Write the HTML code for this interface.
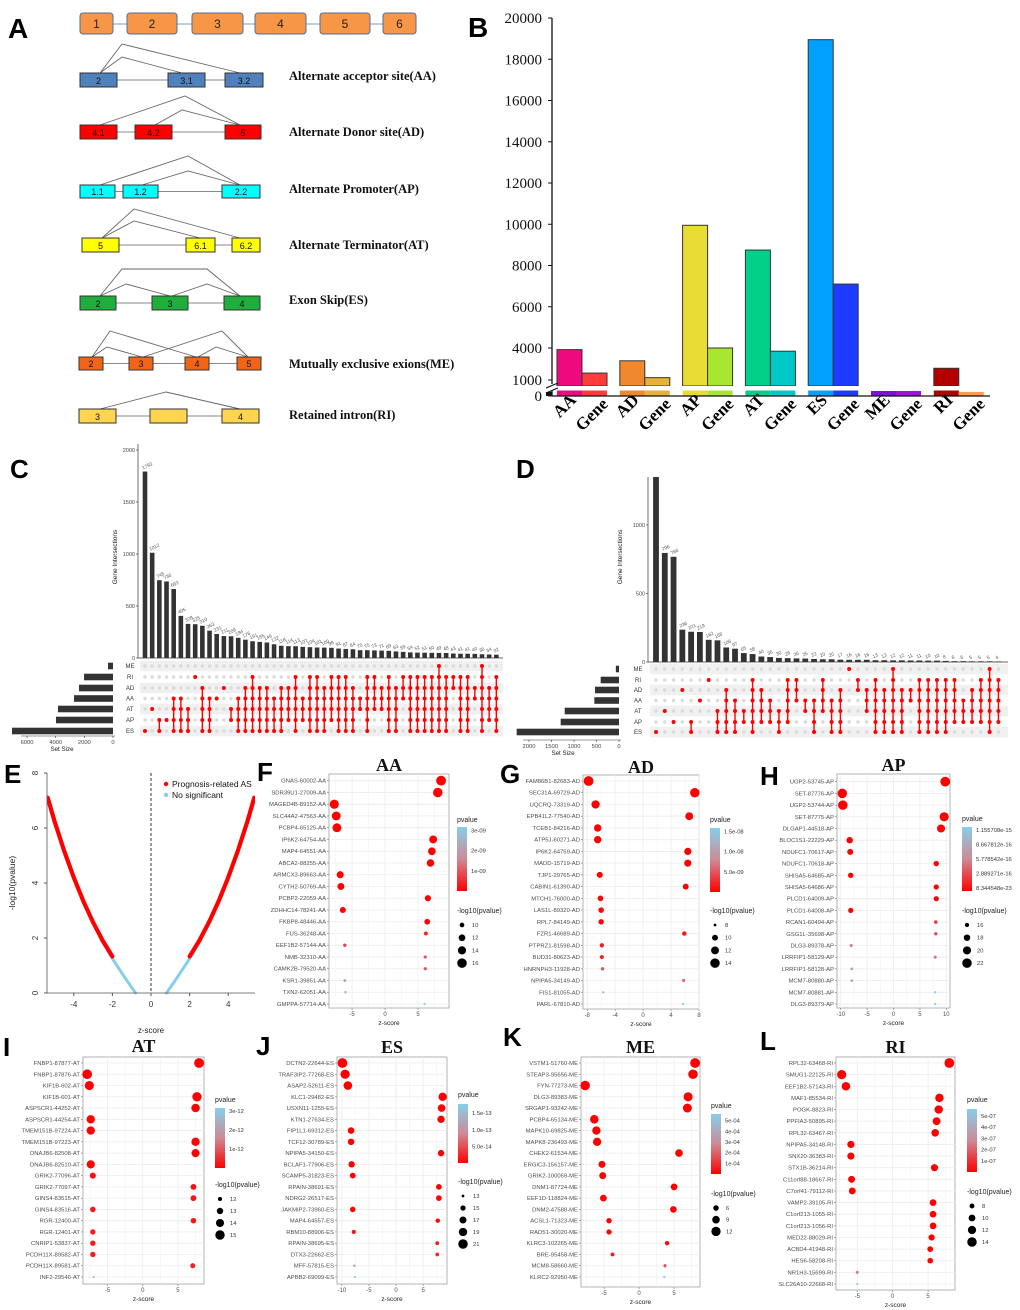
<!DOCTYPE html>
<html><head><meta charset="utf-8"><title>Alternative splicing figure</title>
<style>
html,body{margin:0;padding:0;background:#fff;}
svg{display:block;font-family:"Liberation Sans",sans-serif;}
.serif{font-family:"Liberation Serif",serif;}
</style></head>
<body>
<svg id="fig" width="1020" height="1310" viewBox="0 0 1020 1310" xmlns="http://www.w3.org/2000/svg">
<rect x="0" y="0" width="1020" height="1310" fill="#fff"/>
<defs>
<linearGradient id="cbar" x1="0" y1="1" x2="0" y2="0">
<stop offset="0" stop-color="#ff0000"/><stop offset="0.5" stop-color="#cd8a96"/><stop offset="1" stop-color="#87ceeb"/>
</linearGradient>
</defs>
</svg>
<script>
// ---------- Panel B data ----------
const bCats=['AA','AD','AP','AT','ES','ME','RI'];
const bEvents=[3850,2800,9950,8750,18950,150,2100];
const bGenes=[1650,1220,4000,3700,7100,150,120];
const bTicks=[20000,18000,16000,14000,12000,10000,8000,6000,4000,1000,0];

// ---------- Panel C data ----------
const cRows=['ME','RI','AD','AA','AT','AP','ES'];
const cSizes=[350,2020,2370,2720,3840,3980,7050];
const cCounts=[1793,1012,748,736,663,405,328,325,310,263,231,211,209,194,176,161,155,149,132,118,114,113,107,104,101,100,98,91,87,84,75,75,73,71,69,63,59,54,52,51,50,49,48,43,41,41,40,36,34,32];
const cSets=['ES','AT','AP-ES','AP','AA-ES','AA-ES','AT-ES','RI','AD-ES','AA-ES','AA','AD','AT-AP','AA-ES','AD-ES','RI-ES','AD-ES','AD-ES','AA-ES','AD-ES','AD-AP','RI-ES','AA-AP','RI-ES','RI-ES','AD-ES','RI-AP','RI-ES','RI-ES','AD-ES','AA-AT','RI-ES','RI-AT','AD-AT','RI-ES','AD-ES','RI-AA','RI-ES','RI-ES','RI-ES','RI-ES','ME-ES','RI-ES','RI-AD','RI-ES','RI-ES','AD-AA','ME-ES','AD-AP','RI-ES'];
const cYTicks=[0,500,1000,1500,2000];
const cSizeTicks=[6000,4000,2000,0];

// ---------- Panel D data ----------
const dSizes=[70,407,533,548,1207,1296,2274];
const dCounts=[1400,796,768,236,221,219,162,158,106,97,65,58,40,36,30,28,26,25,22,20,20,17,16,16,16,13,13,12,12,11,11,10,10,8,6,6,5,5,5,4];
const dSets=['ES','AT','AP','AD','AP-ES','AA','RI','AT-ES','AD-ES','AA-ES','AT-AP','RI-ES','AD-AP','AA-AP','AT-ES','RI-AP','RI-AA','AA-AT','AA-ES','RI-AT','AA-ES','AD-ES','ME','RI-AD','AD-AT','RI-ES','AD-ES','ME-ES','AD-ES','AD-AA','RI-ES','RI-ES','RI-ES','RI-ES','RI-AP','AA-AP','AD-AP','RI-AP','ME-ES','RI-AP'];
const dYTicks=[0,500,1000];
const dSizeTicks=[2000,1500,1000,500,0];

// ---------- Panel E data ----------
const eSigLeftZ=[-5.35,-5,-4.5,-4,-3.5,-3,-2.5,-2];
const eSigLeftV=[7.1,6.25,5.17,4.2,3.33,2.57,1.9,1.33];
const eSigRightZ=[2,2.5,3,3.5,4,4.5,5,5.35];
const eSigRightV=[1.33,1.9,2.57,3.33,4.2,5.17,6.25,7.1];
const eNsLeftZ=[-2.6,-2.3,-2,-1.6,-1.2,-0.8];
const eNsLeftV=[1.95,1.6,1.25,0.82,0.4,0];
const eNsRightZ=[0.8,1.2,1.6,2,2.3,2.6];
const eNsRightV=[0,0.4,0.82,1.25,1.6,1.95];
const eXTicks=[-4,-2,0,2,4];
const eYTicks=[0,2,4,6,8];

// ---------- Dot plots data ----------
const fNames=['GNAS-60002-AA','SDR39U1-27009-AA','MAGED4B-89152-AA','SLC44A2-47563-AA','PCBP4-65125-AA','IP6K2-64754-AA','MAP4-64551-AA','ABCA2-88255-AA','ARMCX3-89663-AA','CYTH2-50769-AA','PCBP2-22059-AA','ZDHHC14-78241-AA','FKBP8-48446-AA','FUS-36248-AA','EEF1B2-57144-AA','NMB-32310-AA','CAMK2B-79520-AA','KSR1-39851-AA','TXN2-62051-AA','GMPPA-57714-AA'];
const fZ=[8.5,8.0,-7.7,-7.4,-7.3,7.3,7.1,6.9,-6.8,-6.7,6.5,-6.4,6.4,6.2,-6.1,6.1,6.1,-6.1,-6.0,6.0];
const fNlp=[16.5,16,15.5,15,15,13.5,13.3,13,12.5,12.3,11.5,11.3,11,9.4,9.1,9.0,9.0,8.75,8.6,8.5];
const fCbar=['3e-09','2e-09','1e-09'];const fCbarV=[3e-9,2e-9,1e-9];
const fSizeLeg=[10,12,14,16];

const gNames=['FAM86B1-82683-AD','SEC31A-69729-AD','UQCRQ-73319-AD','EPB41L2-77540-AD','TCEB1-84216-AD','ATP5J-60271-AD','IP6K2-64759-AD','MADD-15719-AD','TJP1-29765-AD','CABIN1-61390-AD','MTCH1-76000-AD','LAS1L-89320-AD','RPL7-84149-AD','FZR1-46689-AD','PTPRZ1-81598-AD','BUD31-80623-AD','HNRNPH3-11928-AD','NPIPA5-34149-AD','FIS1-81055-AD','PARL-67810-AD'];
const gZ=[-7.8,7.4,-6.8,6.6,-6.5,-6.5,6.4,6.4,-6.2,6.1,-6.1,-6.0,-6.0,5.9,-5.9,-5.9,-5.8,5.8,-5.7,5.7];
const gNlp=[14.5,14,12.5,12,11.5,11.5,11.3,11.2,10.2,10,9.8,9.7,9.6,8.9,8.8,8.7,8.3,8.2,7.85,7.8];
const gCbar=['1.5e-08','1.0e-08','5.0e-09'];const gCbarV=[1.5e-8,1.0e-8,5e-9];
const gSizeLeg=[8,10,12,14];

const hNames=['UGP2-53745-AP','SET-87776-AP','UGP2-53744-AP','SET-87775-AP','DLGAP1-44518-AP','BLOC1S1-22229-AP','NDUFC1-70617-AP','NDUFC1-70618-AP','SHISA5-64685-AP','SHISA5-64686-AP','PLCD1-64009-AP','PLCD1-64008-AP','RCAN1-60494-AP','GSG1L-35698-AP','DLG3-89378-AP','LRRFIP1-58129-AP','LRRFIP1-58128-AP','MCM7-80880-AP','MCM7-80881-AP','DLG3-89379-AP'];
const hZ=[9.8,-9.7,-9.6,9.6,9.0,-8.3,-8.2,8.1,-8.1,8.1,8.1,-8.1,8.0,8.0,-8.0,7.9,-7.9,-7.9,7.9,7.9];
const hNlp=[22.5,22,22,21.5,20,18,17.5,17,17,16.8,16.8,16.8,15.6,15.5,15.3,15.3,15.15,15.1,14.95,14.94];
const hCbar=['1.155708e-15','8.667812e-16','5.778542e-16','2.889271e-16','8.344548e-23'];const hCbarV=[1.1557e-15,8.668e-16,5.7785e-16,2.889e-16,0];
const hSizeLeg=[16,18,20,22];

const iNames=['FNBP1-87877-AT','FNBP1-87876-AT','KIF1B-602-AT','KIF1B-601-AT','ASPSCR1-44252-AT','ASPSCR1-44254-AT','TMEM151B-97224-AT','TMEM151B-97223-AT','DNAJB6-82508-AT','DNAJB6-82510-AT','GRIK2-77096-AT','GRIK2-77097-AT','GINS4-83515-AT','GINS4-83516-AT','RGR-12400-AT','RGR-12401-AT','CNRIP1-53837-AT','PCDH11X-89582-AT','PCDH11X-89581-AT','INF2-29546-AT'];
const iZ=[8.0,-7.9,-7.6,7.7,7.5,-7.4,-7.4,7.5,7.5,-7.4,-7.1,7.2,7.2,-7.1,7.2,-7.1,-7.1,-7.1,7.1,-7.0];
const iNlp=[15.3,15.2,14.8,14.9,14.3,14.2,14.2,14.2,14.1,14.1,12.8,12.7,12.7,12.6,12.6,12.5,12.5,12.5,12.4,11.5];
const iCbar=['3e-12','2e-12','1e-12'];const iCbarV=[3e-12,2e-12,1e-12];
const iSizeLeg=[12,13,14,15];

const jNames=['DCTN2-22644-ES','TRAF3IP2-77268-ES','ASAP2-52611-ES','KLC1-29482-ES','USXN11-1255-ES','KTN1-27634-ES','FIP1L1-69312-ES','TCF12-30789-ES','NPIPA5-34150-ES','BCLAF1-77906-ES','SCAMP5-31823-ES','RPAIN-38691-ES','NDRG2-26517-ES','JAKMIP2-73960-ES','MAP4-64557-ES','RBM10-88906-ES','RPAIN-38695-ES','DTX3-22662-ES','MFF-57815-ES','APBB2-69099-ES'];
const jZ=[-9.9,-9.4,-8.9,8.6,8.4,8.3,-8.3,-8.3,8.3,-8.2,-8.0,7.9,7.9,-8.0,7.7,-7.8,7.6,7.6,-7.7,-7.6];
const jNlp=[21.5,20.5,19.5,19,18,17.5,16.5,16.4,16.3,16.2,15.5,15.4,15.4,15.3,14.2,13.9,13.7,13.6,12.9,12.75];
const jCbar=['1.5e-13','1.0e-13','5.0e-14'];const jCbarV=[1.5e-13,1.0e-13,5e-14];
const jSizeLeg=[13,15,17,19,21];

const kNames=['VSTM1-51760-ME','STEAP3-95656-ME','FYN-77273-ME','DLG3-89383-ME','SRGAP1-93242-ME','PCBP4-65134-ME','MAPK10-69825-ME','MAPK8-236493-ME','CHEK2-61534-ME','ERGIC3-156157-ME','GRIK2-100059-ME','DNM1-87724-ME','EEF1D-118824-ME','DNM2-47588-ME','ACSL1-71323-ME','RAD51-30020-ME','KLRC3-102265-ME','BRE-95458-ME','MCM8-58660-ME','KLRC2-92950-ME'];
const kZ=[8.0,7.7,-7.7,7.0,6.9,-6.4,-6.1,-6.0,5.7,-5.3,-5.2,5.0,-5.1,4.9,-4.3,-4.3,4.0,-3.8,3.7,3.6];
const kNlp=[13,12.5,12.5,11.5,11.3,10.5,10.2,10,9,8,7.9,7.6,7.6,7.5,5.8,5.7,4.8,4.3,3.8,3.25];
const kCbar=['5e-04','4e-04','3e-04','2e-04','1e-04'];const kCbarV=[5e-4,4e-4,3e-4,2e-4,1e-4];
const kSizeLeg=[6,9,12];

const lNames=['RPL32-63468-RI','SMUG1-22125-RI','EEF1B2-57143-RI','MAF1-85534-RI','POGK-8823-RI','PPFIA3-50895-RI','RPL32-63467-RI','NPIPA5-34148-RI','SNX20-36383-RI','STX1B-36214-RI','C11orf88-18667-RI','C7orf41-79112-RI','VAMP2-39105-RI','C1orf213-1055-RI','C1orf213-1056-RI','MED22-88029-RI','ACBD4-41948-RI','HES6-58208-RI','NR1H3-15699-RI','SLC26A10-22668-RI'];
const lZ=[8.0,-7.2,-6.6,6.6,6.5,6.2,6.0,-5.9,-5.9,5.9,-5.8,-5.7,5.7,5.7,5.7,5.5,5.3,5.3,-5.0,-5.0];
const lNlp=[14.5,13.5,12.5,12.3,12.2,11.5,11,10.5,10.5,10.4,10.2,10.1,9.9,9.85,9.8,9.3,8.8,8.7,6.6,6.25];
const lCbar=['5e-07','4e-07','3e-07','2e-07','1e-07'];const lCbarV=[5e-7,4e-7,3e-7,2e-7,1e-7];
const lSizeLeg=[8,10,12,14];

// ---------- helpers ----------
const NS='http://www.w3.org/2000/svg';
const svg=document.getElementById('fig');
function mk(tag,attrs,parent){const e=document.createElementNS(NS,tag);for(const k in attrs)e.setAttribute(k,attrs[k]);(parent||svg).appendChild(e);return e;}
function tx(x,y,str,attrs,parent){const e=mk('text',Object.assign({x:x,y:y},attrs||{}),parent);e.textContent=str;return e;}
function grp(name){const g=mk('g',{});


return g;}
function letter(x,y,s,size){const t=tx(x,y,s,{'font-size':size||26,'font-weight':'bold'});

}

// ---------- Panel A (diagram) ----------
(function(){
const g=grp('panel-a-splicing-diagram');
letter(8,38,'A',28);
const top=[[80,127,'1'],[127,177,'2'],[192,243,'3'],[255,306,'4'],[320,370,'5'],[383,416,'6']];
mk('line',{x1:80,y1:24,x2:416,y2:24,stroke:'#9bb0c8','stroke-width':1.2},g);
top.forEach((b,i)=>{
const r=mk('rect',{x:b[0],y:13,width:(i==0?33:b[1]-b[0]),height:21,rx:3,fill:'#f79646',stroke:'#4f6d9f','stroke-width':1},g);


tx(b[0]+(i==0?16.5:(b[1]-b[0])/2),28,b[2],{'font-size':12,'text-anchor':'middle',fill:'#222'},g);});
const rows=[
 {y:73,h:14,c:'#4f81bd',label:'Alternate acceptor site(AA)',ly:80,boxes:[[80,37,'2'],[168,37,'3.1'],[225,38,'3.2']],lines:[[[100,73],[122,44],[240,73]],[[100,73],[122,57],[182,73]]]},
 {y:125,h:14,c:'#ff0000',label:'Alternate Donor site(AD)',ly:136,boxes:[[80,37,'4.1'],[135,37,'4.2'],[225,36,'5']],lines:[[[100,125],[185,96],[240,125]],[[155,125],[182,110],[240,125]]]},
 {y:185,h:13,c:'#00ffff',label:'Alternate Promoter(AP)',ly:193,boxes:[[80,35,'1.1'],[123,35,'1.2'],[222,38,'2.2']],lines:[[[100,185],[188,156],[240,185]],[[142,185],[188,171],[240,185]]]},
 {y:238,h:14,c:'#ffff00',label:'Alternate Terminator(AT)',ly:249,boxes:[[82,37,'5'],[186,29,'6.1'],[232,28,'6.2']],lines:[[[102,238],[134,209],[240,238]],[[102,238],[134,221],[200,238]]]},
 {y:296,h:14,c:'#1fae3c',label:'Exon Skip(ES)',ly:304,boxes:[[80,36,'2'],[152,36,'3'],[224,36,'4']],lines:[[[100,296],[122,269],[207,269],[240,296]],[[100,296],[126,284],[170,296]],[[172,296],[207,284],[240,296]]]},
 {y:357,h:13,c:'#f26518',label:'Mutually exclusive exions(ME)',ly:368,boxes:[[79,24,'2'],[129,24,'3'],[185,24,'4'],[237,24,'5']],lines:[[[92,357],[110,331],[196,357]],[[92,357],[107,347],[142,357]],[[143,357],[222,331],[248,357]],[[198,357],[216,347],[248,357]]]},
 {y:409,h:14,c:'#ffd54f',label:'Retained intron(RI)',ly:419,boxes:[[79,37,'3'],[150,37,''],[222,37,'4']],lines:[[[100,409],[166,392],[240,409]]]}
];
rows.forEach(r=>{
 const first=r.boxes[0],last=r.boxes[r.boxes.length-1];
 mk('line',{x1:first[0],y1:r.y+r.h/2,x2:last[0]+last[1],y2:r.y+r.h/2,stroke:'#888','stroke-width':1},g);
 r.lines.forEach(l=>mk('polyline',{points:l.map(p=>p.join(',')).join(' '),fill:'none',stroke:'#666','stroke-width':0.9},g));
 r.boxes.forEach(b=>{const rc=mk('rect',{x:b[0],y:r.y,width:b[1],height:r.h,fill:r.c,stroke:'#333','stroke-width':1},g);
 
 
 tx(b[0]+b[1]/2,r.y+r.h-3,b[2],{'font-size':9,'text-anchor':'middle',fill:'#111'},g);});
 const t=tx(289,r.ly,r.label,{'font-size':12.5,'font-weight':'bold','class':'serif',fill:'#111'},g);
 
 
});
})();

// ---------- Panel B ----------
(function(){
const g=grp('panel-b-bar-chart');
letter(468,37,'B',28);
const AX=552;
function yB(v){ if(v>=4000) return 348-(v-4000)*0.020625; if(v>=1000) return 380-(v-1000)*32/3000; return 396-Math.min(v,200)/200*6;}
const evCol=['#ee0a7e','#f0892d','#e6dc34','#00d088','#00a0ff','#7a10e0','#b00000'];
const gnCol=['#ff3c3c','#e8b13a','#a8e632','#00c8c8','#1e3cff','#a010d8','#ff9c50'];
function bar(x,v,col,name){
 if(v>=1000){const r1=mk('rect',{x:x,y:yB(v),width:25,height:386-yB(v),fill:col,stroke:'#333','stroke-width':1},g);
 
 
 mk('rect',{x:x,y:390.5,width:25,height:5.5,fill:col},g);}
 else{const r2=mk('rect',{x:x,y:yB(v)-0.5,width:25,height:396-yB(v)+0.5,fill:col},g);
 
 }
}
bCats.forEach((c,i)=>{const x=557+i*62.8;
 bar(x,bEvents[i],evCol[i],'bar-'+c.toLowerCase()+'-events');
 bar(x+25,bGenes[i],gnCol[i],'bar-'+c.toLowerCase()+'-genes');
 const t1=tx(x+20,401,c,{'font-size':17,'font-weight':'bold','class':'serif','text-anchor':'end',transform:`rotate(-45 ${x+20} 401)`},g);
 
 
 const t2=tx(x+52,405,'Gene',{'font-size':17,'font-weight':'bold','class':'serif','text-anchor':'end',transform:`rotate(-45 ${x+52} 405)`},g);
 
 
});
mk('rect',{x:AX+3,y:386,width:435,height:4.5,fill:'#fff'},g);
mk('line',{x1:AX,y1:18,x2:AX,y2:384,stroke:'#111','stroke-width':1.3},g);
mk('line',{x1:AX,y1:391,x2:AX,y2:396,stroke:'#111','stroke-width':1.3},g);
mk('line',{x1:AX-6,y1:388,x2:AX+6,y2:383,stroke:'#111','stroke-width':1.2},g);
mk('line',{x1:AX-6,y1:393,x2:AX+6,y2:388,stroke:'#111','stroke-width':1.2},g);
mk('rect',{x:AX-6,y:392,width:6,height:4,fill:'#111'},g);
mk('line',{x1:AX,y1:396,x2:990,y2:396,stroke:'#111','stroke-width':1.3},g);
bTicks.forEach(v=>{const y=v==0?396:yB(v);
 mk('line',{x1:AX-4,y1:y,x2:AX,y2:y,stroke:'#111'},g);
 const t=tx(AX-10,y+5,String(v),{'font-size':15,'class':'serif','text-anchor':'end',fill:'#111'},g);
 
 });
})();

// ---------- UpSet helper ----------
function upset(o){
const g=grp(o.name);
const fill='#333';
mk('line',{x1:o.axisX,y1:o.axisTop,x2:o.axisX,y2:o.y0,stroke:'#333','stroke-width':0.7},g);
mk('line',{x1:o.axisX,y1:o.y0,x2:o.bandX1,y2:o.y0,stroke:'#333','stroke-width':0.7},g);
o.yTicks.forEach(v=>{const y=o.y0-v*o.k;
 mk('line',{x1:o.axisX-2,y1:y,x2:o.axisX,y2:y,stroke:'#333','stroke-width':0.6},g);
 tx(o.axisX-3,y+2,String(v),{'font-size':5.5,'text-anchor':'end',fill:'#444'},g);});
tx(o.ytitleX,o.ytitleY,'Gene Intersections',{'font-size':6.5,'text-anchor':'middle',fill:'#222',transform:`rotate(-90 ${o.ytitleX} ${o.ytitleY})`},g);
o.rowsY.forEach((y,i)=>{ if(i%2==0) mk('rect',{x:o.axisX+2,y:y-5.3,width:o.bandX1-o.axisX-2,height:10.6,fill:'#f0f0f0'},g);
 tx(o.labelX,y+2,cRows[i],{'font-size':6,'text-anchor':'middle',fill:'#333'},g);});
o.counts.forEach((v,i)=>{const cx=o.barX0+i*o.pitch;let top=o.y0-v*o.k;if(o.clipTop&&top<o.clipTop)top=o.clipTop;
 const r=mk('rect',{x:cx-o.bw/2,y:top,width:o.bw,height:o.y0-top,fill:fill},g);
 
 
 if(!(o.clipTop&&top<=o.clipTop)) tx(cx-2,top-2,String(v),{'font-size':4.8,fill:'#555',transform:`rotate(-25 ${cx-2} ${top-2})`},g);
 o.rowsY.forEach(y=>mk('circle',{cx:cx,cy:y,r:1.7,fill:'#dadada'},g));
 const parts=o.sets[i].split('-');const a=cRows.indexOf(parts[0]),b=cRows.indexOf(parts[parts.length-1]);
 if(b>a) mk('line',{x1:cx,y1:o.rowsY[a],x2:cx,y2:o.rowsY[b],stroke:'#ff0000','stroke-width':1.4},g);
 for(let k=a;k<=b;k++){const d=mk('circle',{cx:cx,cy:o.rowsY[k],r:2,fill:'#ff0000'},g);
 
 }
});
o.sizes.forEach((v,i)=>{const w=v*o.sizeK;
 const r=mk('rect',{x:o.sizeRight-w,y:o.rowsY[i]-3.3,width:w,height:6.6,fill:fill},g);
 
 });
mk('line',{x1:o.sizeRight-o.sizeTicks[0]*o.sizeK-6,y1:o.sizeAxisY,x2:o.sizeRight+2,y2:o.sizeAxisY,stroke:'#333','stroke-width':0.6},g);
o.sizeTicks.forEach(v=>{const x=o.sizeRight-v*o.sizeK;
 mk('line',{x1:x,y1:o.sizeAxisY,x2:x,y2:o.sizeAxisY+2,stroke:'#333','stroke-width':0.6},g);
 tx(x,o.sizeAxisY+8,String(v),{'font-size':5.8,'text-anchor':'middle',fill:'#444'},g);});
tx(o.sizeTitleX,o.sizeAxisY+15,'Set Size',{'font-size':6.2,'text-anchor':'middle',fill:'#222'},g);
}
letter(10,478,'C',26);
upset({name:'panel-c-upset',counts:cCounts,sets:cSets,sizes:cSizes,yTicks:cYTicks,sizeTicks:cSizeTicks,
 barX0:145,pitch:7.17,bw:4.6,y0:658,k:0.104,axisX:138,axisTop:444,rowsY:[666,677,688,698.5,709,720,731],labelX:130,
 sizeRight:113,sizeK:0.01433,sizeAxisY:736,sizeTitleX:62,bandX1:503,ytitleX:117,ytitleY:557});
letter(516,478,'D',26);
upset({name:'panel-d-upset',counts:dCounts,sets:dSets,sizes:dSizes,yTicks:dYTicks,sizeTicks:dSizeTicks,
 barX0:656,pitch:8.78,bw:5.8,y0:662,k:0.137,clipTop:477,axisX:648,axisTop:477,rowsY:[669,680,690,700.5,711,722,732],labelX:638,
 sizeRight:619,sizeK:0.045,sizeAxisY:740,sizeTitleX:563,bandX1:1008,ytitleX:622,ytitleY:557});

// ---------- Panel E ----------
(function(){
const g=grp('panel-e-volcano');
letter(4,783,'E',26);
const xE=z=>151+z*19.3, yE=v=>993-v*27.5;
const clip=mk('clipPath',{id:'eclip'},g);mk('rect',{x:47,y:760,width:208,height:240},clip);
const pg=mk('g',{'clip-path':'url(#eclip)'},g);
function path(zs,vs,col,w,name){const p=mk('polyline',{points:zs.map((z,i)=>xE(z)+','+yE(vs[i])).join(' '),fill:'none',stroke:col,'stroke-width':w,'stroke-linecap':'round'},pg);
 
 }
path(eNsLeftZ,eNsLeftV,'#87ceeb',3,'not-significant-left');
path(eNsRightZ,eNsRightV,'#87ceeb',3,'not-significant-right');
path(eSigLeftZ,eSigLeftV,'#ff0000',4.2,'prognosis-related-left');
path(eSigRightZ,eSigRightV,'#ff0000',4.2,'prognosis-related-right');
mk('line',{x1:xE(0),y1:773,x2:xE(0),y2:993,stroke:'#333','stroke-width':1,'stroke-dasharray':'3,2'},g);
mk('line',{x1:47,y1:773,x2:47,y2:993,stroke:'#555','stroke-width':0.8},g);
mk('line',{x1:47,y1:993,x2:255,y2:993,stroke:'#555','stroke-width':0.8},g);
eYTicks.forEach(v=>{const y=yE(v);mk('line',{x1:44,y1:y,x2:47,y2:y,stroke:'#555'},g);
 tx(38,y,String(v),{'font-size':8,'text-anchor':'middle',fill:'#333',transform:`rotate(-90 38 ${y})`},g);});
eXTicks.forEach(v=>{const x=xE(v);mk('line',{x1:x,y1:993,x2:x,y2:996,stroke:'#555'},g);
 tx(x,1007,String(v),{'font-size':8,'text-anchor':'middle',fill:'#333'},g);});
tx(15,883,'-log10(pvalue)',{'font-size':8.5,'text-anchor':'middle',fill:'#222',transform:'rotate(-90 15 883)'},g);
tx(151,1033,'z-score',{'font-size':8,'text-anchor':'middle',fill:'#222'},g);
mk('circle',{cx:166,cy:784,r:2.2,fill:'#ff0000'},g);
const l1=tx(172,787,'Prognosis-related AS',{'font-size':8.5,fill:'#111'},g);


mk('circle',{cx:166,cy:795,r:2.2,fill:'#87ceeb'},g);
const l2=tx(172,798,'No significant',{'font-size':8.5,fill:'#111'},g);


})();

// ---------- Dot plots ----------
function colorFor(t){t=Math.max(0,Math.min(1,t));const a=[255,0,0],m=[205,138,150],b=[135,206,235];
 let c; if(t<0.5){const u=t/0.5;c=a.map((v,i)=>v+(m[i]-v)*u);} else {const u=(t-0.5)/0.5;c=m.map((v,i)=>v+(b[i]-v)*u);}
 return 'rgb('+c.map(Math.round).join(',')+')';}
function dotplot(o){
const g=grp(o.name);
letter(o.lx,o.ly,o.letter,26);
const t=tx((o.x0+o.x1)/2,o.titleY,o.title,{'font-size':18,'font-weight':'bold','class':'serif','text-anchor':'middle',fill:'#111'},g);


const xs=z=>o.x0+(z-o.zmin)/(o.zmax-o.zmin)*(o.x1-o.x0);
const n=o.names.length;const ys=i=>o.r0+i*(o.r1-o.r0)/(n-1);
mk('rect',{x:o.x0,y:o.y0,width:o.x1-o.x0,height:o.y1-o.y0,fill:'#fff',stroke:'#a0a0a0','stroke-width':0.8},g);
for(let z=Math.ceil(o.zmin/o.minor)*o.minor;z<=o.zmax;z+=o.minor) mk('line',{x1:xs(z),y1:o.y0,x2:xs(z),y2:o.y1,stroke:'#ececec','stroke-width':o.ticks.includes(Math.round(z*100)/100)?0.8:0.4},g);
o.names.forEach((nm,i)=>{const y=ys(i);mk('line',{x1:o.x0,y1:y,x2:o.x1,y2:y,stroke:'#ececec','stroke-width':0.8},g);
 mk('line',{x1:o.x0-2,y1:y,x2:o.x0,y2:y,stroke:'#777','stroke-width':0.6},g);
 const lb=tx(o.x0-3,y+2,nm,{'font-size':5.9,'text-anchor':'end',fill:'#4d4d4d'},g);
 
 });
o.ticks.forEach(z=>{const x=xs(z);mk('line',{x1:x,y1:o.y1,x2:x,y2:o.y1+2,stroke:'#777','stroke-width':0.6},g);
 tx(x,o.y1+8,String(z),{'font-size':6,'text-anchor':'middle',fill:'#4d4d4d'},g);});
tx((o.x0+o.x1)/2,o.y1+17,'z-score',{'font-size':6.5,'text-anchor':'middle',fill:'#222'},g);
const mn=Math.min(...o.nlp),mx=Math.max(...o.nlp);const cmax=Math.pow(10,-mn);
const rr=v=>{const t=Math.max(0,(v-mn)/(mx-mn));return Math.sqrt(1.1*1.1+(4.9*4.9-1.1*1.1)*t);};
o.names.forEach((nm,i)=>{const d=mk('circle',{cx:xs(o.z[i]),cy:ys(i),r:rr(o.nlp[i]),fill:colorFor(Math.pow(10,-o.nlp[i])/cmax)},g);
 
 });
tx(o.legX,o.pvY,'pvalue',{'font-size':7,fill:'#222'},g);
const cb=mk('rect',{x:o.legX,y:o.cb0,width:10,height:o.cb1-o.cb0,fill:'url(#cbar)'},g);


o.cbarLab.forEach((s,i)=>{const v=o.cbarV[i];const y=o.evenCbar?o.cb0+3+i*(o.cb1-o.cb0-6)/(o.cbarLab.length-1):o.cb1-(v/cmax)*(o.cb1-o.cb0);
 mk('line',{x1:o.legX+10,y1:y,x2:o.legX+12,y2:y,stroke:'#fff','stroke-width':0.6},g);
 tx(o.legX+14,y+2,s,{'font-size':5.8,fill:'#333'},g);});
tx(o.legX,o.szY,'-log10(pvalue)',{'font-size':7,fill:'#222'},g);
o.sizeLeg.forEach((v,i)=>{const y=o.szY+12+i*o.szStep;const c=mk('circle',{cx:o.legX+5,cy:y,r:Math.max(1.1,rr(v)),fill:'#000'},g);
 
 
 tx(o.legX+15,y+2,String(v),{'font-size':5.8,fill:'#333'},g);});
}
dotplot({name:'panel-f-aa',letter:'F',lx:257,ly:781,title:'AA',titleY:771,names:fNames,z:fZ,nlp:fNlp,x0:329,x1:449,y0:774,y1:1008,r0:780.7,r1:1004,zmin:-8.5,zmax:9.7,ticks:[-5,0,5],minor:2.5,
 legX:457,pvY:822,cb0:827,cb1:891,cbarLab:fCbar,cbarV:fCbarV,szY:913,szStep:12.7,sizeLeg:fSizeLeg});
dotplot({name:'panel-g-ad',letter:'G',lx:500,ly:783,title:'AD',titleY:773,names:gNames,z:gZ,nlp:gNlp,x0:583,x1:699,y0:775,y1:1009,r0:781,r1:1004,zmin:-8.6,zmax:8.0,ticks:[-8,-4,0,4,8],minor:2,
 legX:710,pvY:822,cb0:828,cb1:892,cbarLab:gCbar,cbarV:gCbarV,szY:913,szStep:12.7,sizeLeg:gSizeLeg});
dotplot({name:'panel-h-ap',letter:'H',lx:760,ly:785,title:'AP',titleY:771,names:hNames,z:hZ,nlp:hNlp,x0:837,x1:950,y0:774,y1:1008,r0:781.7,r1:1004,zmin:-10.7,zmax:10.7,ticks:[-10,-5,0,5,10],minor:2.5,
 legX:962,pvY:821,cb0:827,cb1:891,cbarLab:hCbar,cbarV:hCbarV,evenCbar:true,szY:913,szStep:12.7,sizeLeg:hSizeLeg});
dotplot({name:'panel-i-at',letter:'I',lx:3,ly:1056,title:'AT',titleY:1052,names:iNames,z:iZ,nlp:iNlp,x0:83,x1:204,y0:1057,y1:1284,r0:1063,r1:1277,zmin:-8.5,zmax:8.7,ticks:[-5,0,5],minor:2.5,
 legX:215,pvY:1102,cb0:1108,cb1:1168,cbarLab:iCbar,cbarV:iCbarV,szY:1187,szStep:12,sizeLeg:iSizeLeg});
dotplot({name:'panel-j-es',letter:'J',lx:256,ly:1055,title:'ES',titleY:1053,names:jNames,z:jZ,nlp:jNlp,x0:337,x1:447,y0:1057,y1:1284,r0:1063,r1:1277,zmin:-10.9,zmax:9.4,ticks:[-10,-5,0,5],minor:2.5,
 legX:458,pvY:1097,cb0:1104,cb1:1163,cbarLab:jCbar,cbarV:jCbarV,szY:1184,szStep:12,sizeLeg:jSizeLeg});
dotplot({name:'panel-k-me',letter:'K',lx:503,ly:1046,title:'ME',titleY:1053,names:kNames,z:kZ,nlp:kNlp,x0:581,x1:700,y0:1057,y1:1287,r0:1063,r1:1277,zmin:-8.3,zmax:8.7,ticks:[-5,0,5],minor:2.5,
 legX:711,pvY:1108,cb0:1114,cb1:1174,cbarLab:kCbar,cbarV:kCbarV,szY:1196,szStep:11.7,sizeLeg:kSizeLeg});
dotplot({name:'panel-l-ri',letter:'L',lx:760,ly:1050,title:'RI',titleY:1053,names:lNames,z:lZ,nlp:lNlp,x0:836,x1:955,y0:1057,y1:1290,r0:1063,r1:1284,zmin:-8.0,zmax:8.8,ticks:[-5,0,5],minor:2.5,
 legX:967,pvY:1102,cb0:1109,cb1:1172,cbarLab:lCbar,cbarV:lCbarV,szY:1194,szStep:12,sizeLeg:lSizeLeg});
</script>
</body></html>
